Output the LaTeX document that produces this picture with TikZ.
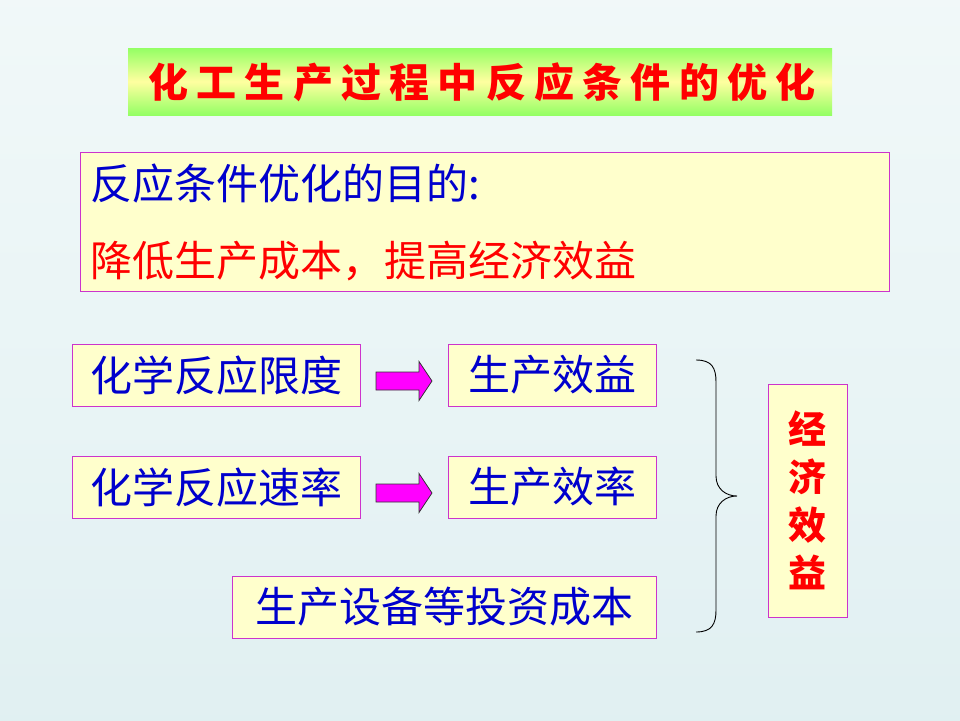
\documentclass[tikz,border=0pt]{standalone}
\usepackage{fontspec}
\newfontfamily\cjk{Noto Sans CJK SC}
\usetikzlibrary{calc}
\definecolor{bgtop}{RGB}{248,252,252}
\definecolor{bgmid}{RGB}{221,238,240}
\definecolor{bgbot}{RGB}{233,245,247}
\definecolor{tgreen}{RGB}{40,255,40}
\definecolor{tyellow}{RGB}{255,255,160}
\definecolor{boxfill}{RGB}{255,255,204}
\definecolor{boxline}{RGB}{204,51,204}
\definecolor{txtblue}{RGB}{0,0,204}
\definecolor{txtred}{RGB}{255,0,0}
\definecolor{arrfill}{RGB}{255,0,255}
\pgfdeclareverticalshading{bgshade}{100bp}{color(0bp)=(bgbot); color(16bp)=(bgmid); color(45bp)=(bgmid!60!bgtop); color(100bp)=(bgtop)}
\pgfdeclareverticalshading{titleshade}{100bp}{color(0bp)=(tgreen); color(50bp)=(tyellow); color(100bp)=(tgreen)}
\tikzset{
  pbox/.style={draw=boxline, line width=1pt, fill=boxfill, inner sep=0pt},
  bluetxt/.style={text=txtblue, font=\cjk\fontsize{42}{50}\selectfont, inner sep=0pt},
  redtxt/.style={text=txtred, font=\cjk\fontsize{42}{50}\selectfont, inner sep=0pt},
  blockarrow/.style={fill=arrfill, draw=black!80, line width=0.8pt, line join=miter},
  bracestyle/.style={draw=black, line width=0.9pt},
}
\begin{document}
\begin{tikzpicture}[x=1pt,y=-1pt]
\useasboundingbox (0,0) rectangle (960,720);
\shade[shading=bgshade] (0,0) rectangle (960,720);
% title
\shade[shading=titleshade] (128,48) rectangle (832,115);
\node[text=txtred, font=\cjk\bfseries\fontsize{40}{48}\selectfont, inner sep=0pt] (title) at (482,82)
  {\makebox[667pt]{化\hfill 工\hfill 生\hfill 产\hfill 过\hfill 程\hfill 中\hfill 反\hfill 应\hfill 条\hfill 件\hfill 的\hfill 优\hfill 化}};
% goal box
\node[pbox, minimum width=809, minimum height=139, anchor=north west] (goal) at (80,152) {};
\node[bluetxt, anchor=west] (goal1) at (90,184) {反应条件优化的目的:};
\node[redtxt, anchor=west] (goal2) at (90,261) {降低生产成本，提高经济效益};
% rows
\node[pbox, minimum width=288, minimum height=62, bluetxt] (lim) at (216,375) {化学反应限度};
\node[pbox, minimum width=208, minimum height=62, bluetxt] (eff) at (552,375) {生产效益};
\node[pbox, minimum width=288, minimum height=62, bluetxt] (rate) at (216,487) {化学反应速率};
\node[pbox, minimum width=208, minimum height=62, bluetxt] (effr) at (552,487) {生产效率};
\node[pbox, minimum width=424, minimum height=62, bluetxt] (cost) at (444,607) {生产设备等投资成本};
% block arrows
\foreach \a/\b in {lim/eff, rate/effr}{
  \draw[blockarrow, shift={($(\a.east)!0.5!(\b.west)+(0,6)$)}]
    (-28,-9) -- (15,-9) -- (15,-19.5) -- (28,0) -- (15,19.5) -- (15,9) -- (-28,9) -- cycle;
}
% brace
\coordinate (btop) at (696,360);
\coordinate (btip) at (737,496);
\coordinate (bbot) at (696,632);
\draw[bracestyle] (btop) .. controls (712,360) and (716,368) .. (716,382) -- (716,476)
  .. controls (716,489) and (726,496) .. (btip)
  .. controls (726,496) and (716,503) .. (716,516) -- (716,610)
  .. controls (716,624) and (712,632) .. (bbot);
% economic benefit
\node[pbox, minimum width=79, minimum height=233] (econ) at (807.5,500.5) {};
\node[text=txtred, font=\cjk\bfseries\fontsize{38}{48}\selectfont, align=center, inner sep=0pt] (econt) at (econ.center) {经\\济\\效\\益};
\end{tikzpicture}
\end{document}
